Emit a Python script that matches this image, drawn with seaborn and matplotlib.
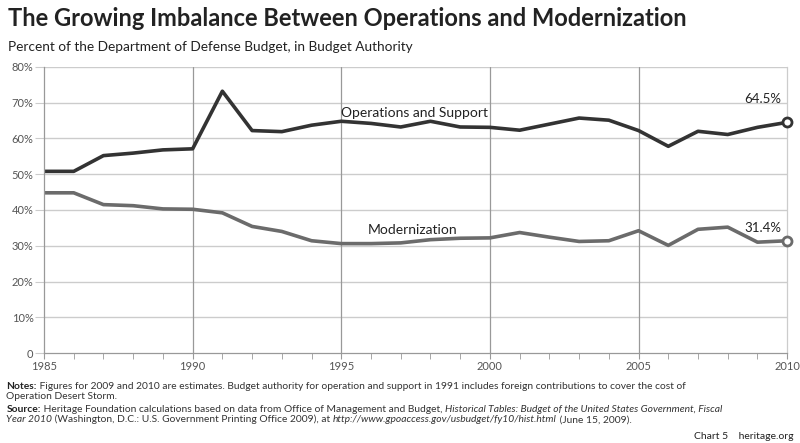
import matplotlib
matplotlib.use("Agg")
import matplotlib.pyplot as plt
import seaborn as sns
import pandas as pd

years = list(range(1985, 2011))
operations = [50.8, 50.8, 55.2, 55.9, 56.8, 57.1, 73.2, 62.2, 61.9, 63.7, 64.8, 64.2, 63.2,
              64.8, 63.2, 63.1, 62.3, 64.0, 65.7, 65.1, 62.2, 57.8, 62.0, 61.1, 63.1, 64.5]
modernization = [44.8, 44.8, 41.5, 41.2, 40.3, 40.2, 39.2, 35.4, 34.0, 31.4, 30.6, 30.6, 30.8,
                 31.7, 32.1, 32.2, 33.7, 32.4, 31.2, 31.4, 34.2, 30.1, 34.6, 35.2, 31.0, 31.4]
series_names = ["Operations and Support", "Modernization"]
y_ticks = [0, 10, 20, 30, 40, 50, 60, 70, 80]
y_labels = ["0", "10%", "20%", "30%", "40%", "50%", "60%", "70%", "80%"]
x_ticks = [1985, 1990, 1995, 2000, 2005, 2010]

df = pd.DataFrame({"year": years * 2,
                   "value": operations + modernization,
                   "series": [series_names[0]] * len(years) + [series_names[1]] * len(years)})

sns.set_style("white")
plt.rcParams["font.family"] = ["Lato", "DejaVu Sans"]

fig = plt.figure(figsize=(8, 4.43), dpi=100)
ax = fig.add_axes([0.055, 0.203, 0.929, 0.646])

palette = {series_names[0]: "#333333", series_names[1]: "#6b6b6b"}
sns.lineplot(data=df, x="year", y="value", hue="series", palette=palette, linewidth=2.6,
             legend=False, ax=ax)

for s, vals in zip(series_names, [operations, modernization]):
    ax.plot([years[-1]], [vals[-1]], marker="o", markersize=6.5, markerfacecolor="white",
            markeredgecolor=palette[s], markeredgewidth=2, zorder=5, clip_on=False)

ax.set_xlim(1985, 2010)
ax.set_ylim(0, 80)
ax.set_yticks(y_ticks)
ax.set_yticklabels(y_labels)
ax.set_xticks(x_ticks)
ax.set_xticks(years, minor=True)
ax.set_xlabel("")
ax.set_ylabel("")

for y in y_ticks[1:]:
    ax.axhline(y, color="#cccccc", linewidth=1, zorder=0)
for x in x_ticks[1:-1]:
    ax.axvline(x, color="#999999", linewidth=0.9, zorder=0)

ax.spines["top"].set_visible(False)
ax.spines["left"].set_color("#999999")
ax.spines["right"].set_color("#cccccc")
ax.spines["bottom"].set_color("#999999")
for sp in ax.spines.values():
    sp.set_linewidth(0.9)

ax.tick_params(axis="x", which="both", direction="out", length=4, color="#999999", bottom=True,
               labelsize=8, labelcolor="#555555", pad=2)
ax.tick_params(axis="y", which="both", length=6.5, direction="out", color="#cccccc", left=True,
               labelsize=8, labelcolor="#555555", pad=1)

ax.text(1995, 65.3, "Operations and Support", fontsize=10, color="#222222", ha="left", va="bottom")
ax.text(1995.9, 32.6, "Modernization", fontsize=10, color="#222222", ha="left", va="bottom")
ax.text(2009.8, 69.3, "64.5%", fontsize=9.5, color="#222222", ha="right", va="bottom")
ax.text(2009.8, 33.3, "31.4%", fontsize=9.5, color="#222222", ha="right", va="bottom")

fig.text(0.01, 0.958, "The Growing Imbalance Between Operations and Modernization",
         fontsize=17, fontweight="bold", color="#222222", ha="left", va="center")
fig.text(0.01, 0.894, "Percent of the Department of Defense Budget, in Budget Authority",
         fontsize=9.8, color="#222222", ha="left", va="center")

note_fs = 7.35
col = "#333333"
renderer = fig.canvas.get_renderer()


def line(x0, y0, parts):
    x = x0
    for s, kw in parts:
        t = fig.text(x, y0, s, fontsize=note_fs, color=kw.pop("color", col), ha="left",
                     va="baseline", **kw)
        bb = t.get_window_extent(renderer=renderer)
        x = bb.x1 / fig.bbox.width


line(0.008, 0.121, [("Notes:", {"fontweight": "bold", "color": "#222222"}),
                    (" Figures for 2009 and 2010 are estimates. Budget authority for operation and support in 1991 includes foreign contributions to cover the cost of", {})])
line(0.008, 0.099, [("Operation Desert Storm.", {})])
line(0.008, 0.070, [("Source:", {"fontweight": "bold", "color": "#222222"}),
                    (" Heritage Foundation calculations based on data from Office of Management and Budget, ", {}),
                    ("Historical Tables: Budget of the United States Government, Fiscal", {"style": "italic"})])
line(0.008, 0.047, [("Year 2010", {"style": "italic"}),
                    (" (Washington, D.C.: U.S. Government Printing Office 2009), at ", {}),
                    ("http://www.gpoaccess.gov/usbudget/fy10/hist.html", {"style": "italic"}),
                    (" (June 15, 2009).", {})])

fig.text(0.992, 0.014, "Chart 5    heritage.org", fontsize=7.5, color="#222222", ha="right", va="center")

fig.savefig("out.png", dpi=100)
